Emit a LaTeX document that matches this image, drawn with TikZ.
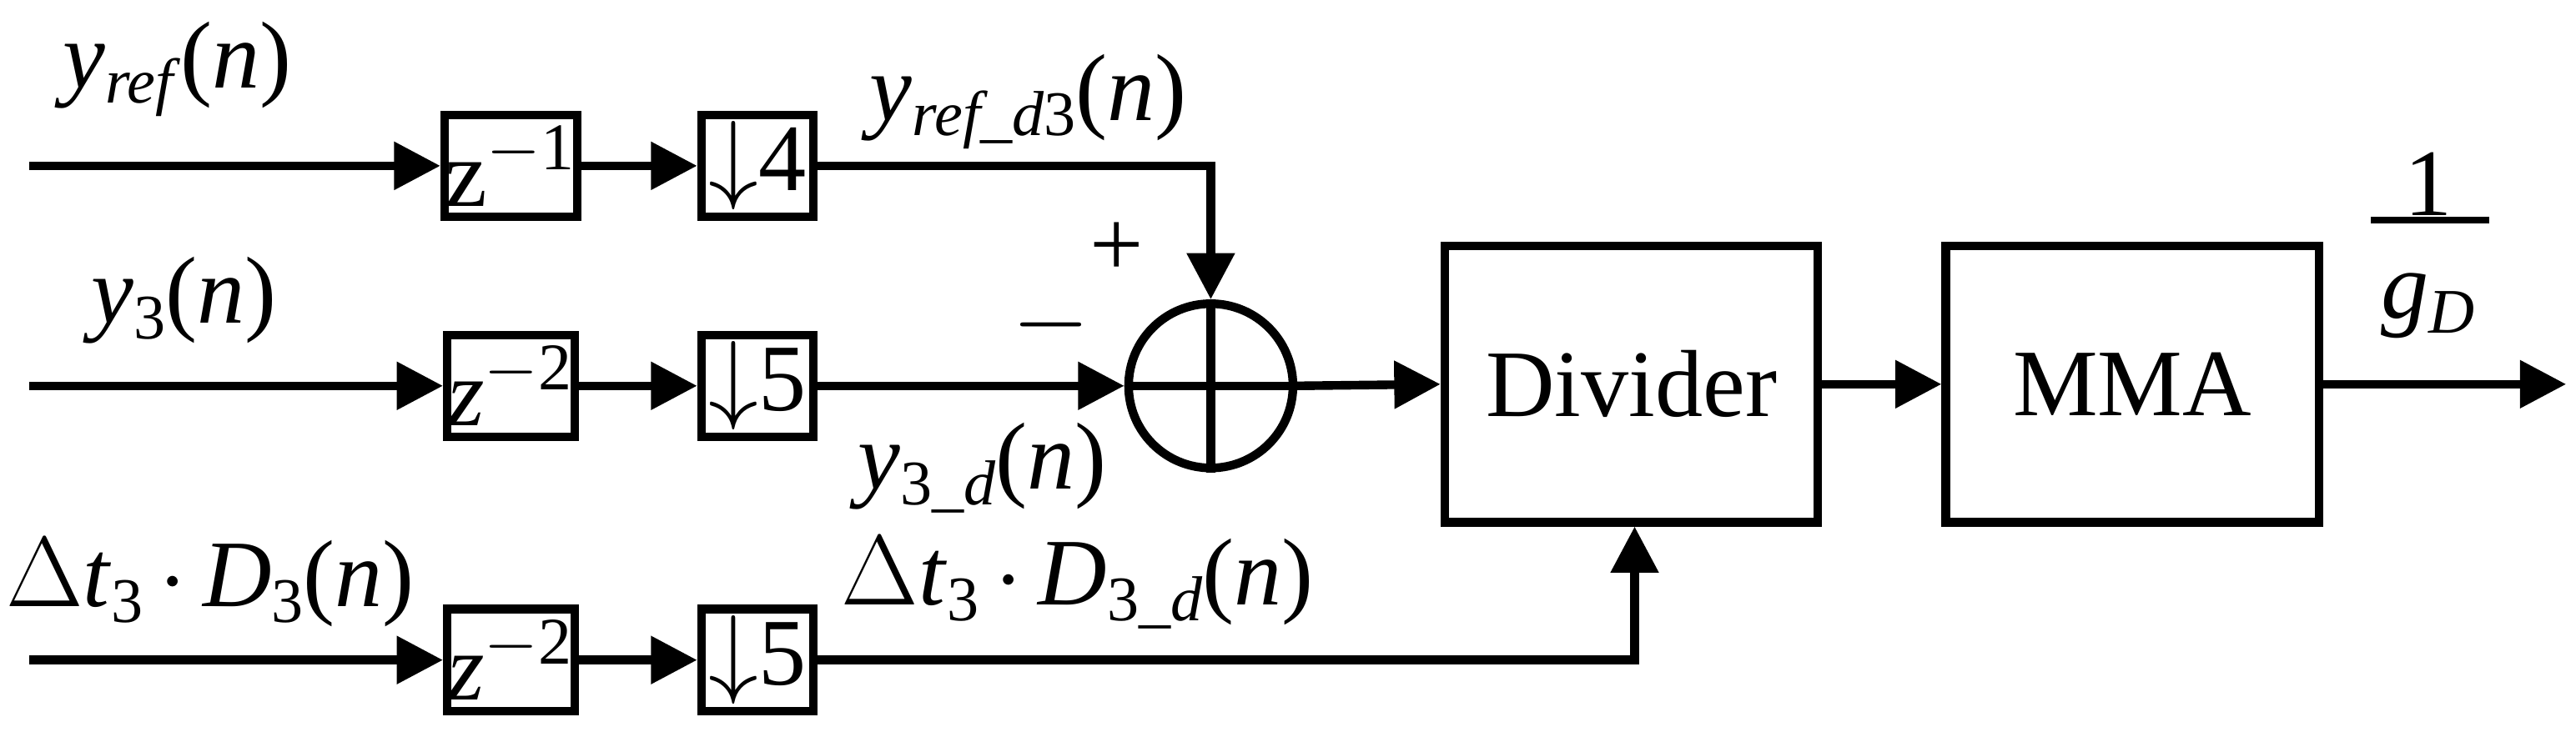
\documentclass[tikz,border=0pt]{standalone}
\usepackage{fontspec}
\setmainfont{Liberation Serif}
\usetikzlibrary{arrows.meta}
\newcommand{\ii}[1]{\textit{#1}}
\newcommand{\sbs}[1]{\raisebox{-0.35ex}{\fontsize{11}{13}\selectfont #1}}
\begin{document}
\begin{tikzpicture}[x=0.01cm,y=-0.01cm,
  ln/.style={line width=1.5pt},
  arr/.style={ln,-{Triangle[length=8pt,width=8pt]}},
  lab/.style={font=\fontsize{16.5}{19}\selectfont,inner sep=0pt}]
\useasboundingbox (0,0) rectangle (1568,458);
\tikzset{sb/.style={draw,line width=1.5pt,minimum width=0.68cm,minimum height=0.62cm,inner sep=0pt,font=\fontsize{16.5}{19}\selectfont},
 bb/.style={draw,line width=1.5pt,minimum width=2.27cm,minimum height=1.68cm,inner sep=0pt,font=\fontsize{16.5}{19}\selectfont}}
\coordinate (i1) at (18,101);
\node[sb] (a1) at (311,101) {z\textsuperscript{$-$1}};
\node[sb] (b1) at (461,101) {$\downarrow$4};
\coordinate (i2) at (18,235);
\node[sb] (a2) at (311,235) {\ii{z}\textsuperscript{$-$2}};
\node[sb] (b2) at (461,235) {$\downarrow$5};
\coordinate (i3) at (18,402);
\node[sb] (a3) at (311,402) {\ii{z}\textsuperscript{$-$2}};
\node[sb] (b3) at (461,402) {$\downarrow$5};
\node[circle,draw,line width=1.5pt,minimum size=1.0cm,inner sep=0pt] (s) at (737,235) {};
\draw[ln] (s.north) -- (s.south) (s.west) -- (s.east);
\node[bb] (div) at (993,234) {Divider};
\node[bb] (mma) at (1298,234) {MMA};
\coordinate (out) at (1562,234);
\coordinate (c1) at (737,101);
\coordinate (c3) at (995,402);
\draw[arr] (i1) -- (a1);
\draw[arr] (a1) -- (b1);
\draw[arr] (b1.east) -- (c1) -- (s.north);
\draw[arr] (i2) -- (a2);
\draw[arr] (a2) -- (b2);
\draw[arr] (b2) -- (s.west);
\draw[arr] (i3) -- (a3);
\draw[arr] (a3) -- (b3);
\draw[arr] (b3.east) -- (c3) -- (div.south -| c3);
\draw[arr] (s.east) -- (div.west);
\draw[arr] (div) -- (mma);
\draw[arr] (mma) -- (out);
\node[lab] (l1) at (108,42) {\ii{y}\sbs{\ii{ref}}(\ii{n})};
\node[lab] (l2) at (112,183) {\ii{y}\sbs{3}(\ii{n})};
\node[lab] (l3) at (128,355) {$\Delta$\ii{t}\sbs{3}\,$\cdot$\,\ii{D}\sbs{3}(\ii{n})};
\node[lab] (l4) at (626,62) {\ii{y}\sbs{\ii{ref\_d}3}(\ii{n})};
\node[lab] (l5) at (680,152) {+};
\node[lab] (l6) at (640,198) {$-$};
\node[lab] (l7) at (598,285) {\ii{y}\sbs{3\_\ii{d}}(\ii{n})};
\node[lab] (l8) at (656,355) {$\Delta$\ii{t}\sbs{3}\,$\cdot$\,\ii{D}\sbs{3\_\ii{d}}(\ii{n})};
\node[lab] (l9) at (1478,112) {1};
\draw[line width=1.2pt] (1443,134) -- (1515,134);
\node[lab] (l10) at (1478,186) {\ii{g}\sbs{\ii{D}}};
\end{tikzpicture}
\end{document}
